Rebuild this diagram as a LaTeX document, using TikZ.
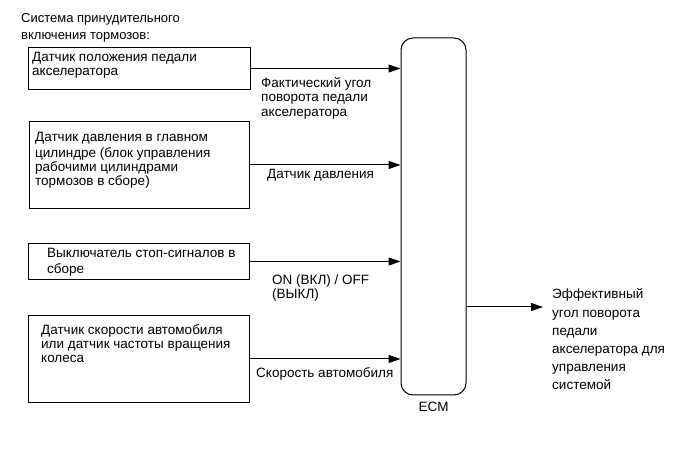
\documentclass[tikz,border=0pt]{standalone}
\usepackage{fontspec}
\setmainfont{Liberation Sans}
\usetikzlibrary{arrows.meta,positioning}

\tikzset{
  sensorbox/.style={draw,line width=1pt,inner sep=0pt,anchor=north west},
  boxtext/.style={anchor=north west,inner sep=0pt,align=left,
    font=\fontsize{13.5}{14}\selectfont},
  sigtext/.style={boxtext,font=\fontsize{13.5}{14.5}\selectfont},
  signal/.style={line width=1pt,-{Triangle[length=12pt,width=8pt]}},
}

\begin{document}
\begin{tikzpicture}[x=1pt,y=-1pt]
  \useasboundingbox (0,0) rectangle (689,465);
  % title
  \node[boxtext,font=\fontsize{13}{17}\selectfont] (title) at (21,10)
    {\strut Система принудительного\\включения тормозов:};
  % ECM
  \node[draw,line width=1pt,rounded corners=12pt,minimum width=65pt,
    minimum height=357pt,inner sep=0pt] (ecm) at (433.5,216.5) {};
  \node[sigtext,anchor=center] (ecmlabel) at (433.5,407) {ECM};

  % sensors
  \node[sensorbox,minimum width=222pt,minimum height=42pt] (pedal) at (28,47) {};
  \node[sensorbox,minimum width=220pt,minimum height=87pt] (master) at (29,121) {};
  \node[sensorbox,minimum width=221pt,minimum height=36pt] (stop) at (28,243) {};
  \node[sensorbox,minimum width=221pt,minimum height=87pt] (speed) at (28,315) {};

  \node[boxtext] (pedaltext) at (32,52)
    {\strut Датчик положения педали\\акселератора};
  \node[boxtext] (mastertext) at (35,132)
    {\strut Датчик давления в главном\\цилиндре (блок управления\\рабочими цилиндрами\\тормозов в сборе)};
  \node[boxtext] (stoptext) at (47,248)
    {\strut Выключатель стоп-сигналов в\\сборе};
  \node[boxtext] (speedtext) at (41,324)
    {\strut Датчик скорости автомобиля\\или датчик частоты вращения\\колеса};

  % signals to ECM
  \draw[signal] (pedal.east) -- (pedal.east -| ecm.west);
  \draw[signal] (master.east) -- (master.east -| ecm.west);
  \draw[signal] (stop.east) -- (stop.east -| ecm.west);
  \draw[signal] (speed.east) -- (speed.east -| ecm.west);

  \node[sigtext] (pedalsig) at (261,77)
    {\strut Фактический угол\\поворота педали\\акселератора};
  \node[sigtext] (mastersig) at (267,168) {\strut Датчик давления};
  \node[sigtext] (stopsig) at (272,274) {\strut ON (ВКЛ) / OFF\\(ВЫКЛ)};
  \node[sigtext] (speedsig) at (256,367) {\strut Скорость автомобиля};

  % output
  \coordinate (out) at (543,307);
  \draw[signal] (out -| ecm.east) -- (out);
  \node[sigtext,font=\fontsize{13.5}{18.2}\selectfont] (outsig) at (552,286)
    {\strut Эффективный\\угол поворота\\педали\\акселератора для\\управления\\системой};
\end{tikzpicture}
\end{document}
